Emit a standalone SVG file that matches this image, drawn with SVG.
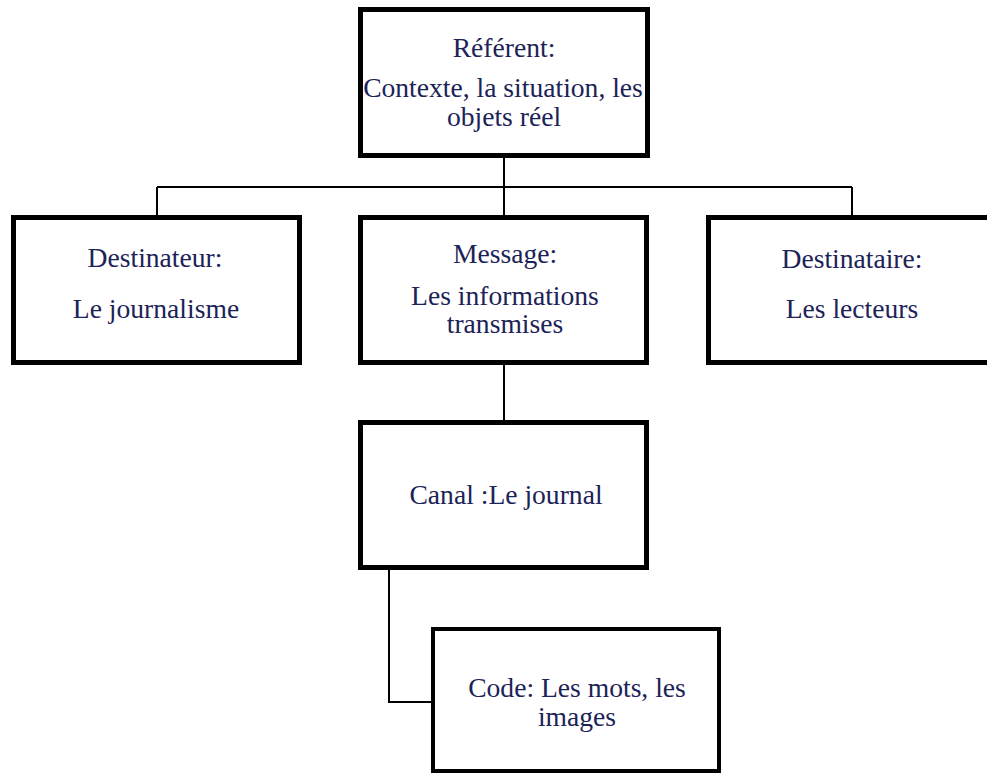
<svg xmlns="http://www.w3.org/2000/svg" width="987" height="774" viewBox="0 0 987 774">
<style>
.box{fill:#fff;stroke:#000;stroke-width:5}
.t{font-family:'Liberation Serif','DejaVu Serif',serif;font-size:27.6px;fill:#1c2357;text-anchor:middle}
.c{fill:none;stroke:#000;stroke-width:2}
</style>
<rect width="987" height="774" fill="#fff"/>
<g id="connectors">
<path class="c" d="M504 156V217"/>
<path class="c" d="M157 187H852"/>
<path class="c" d="M157 187V216"/>
<path class="c" d="M852 187V216"/>
<path class="c" d="M504 363V421"/>
<path class="c" d="M389 568V702H432"/>
</g>
<g id="referent">
<rect class="box" x="360.5" y="9.5" width="287" height="146"/>
<text class="t" x="504" y="57">Référent:</text>
<text class="t" x="503" y="97">Contexte, la situation, les</text>
<text class="t" x="504" y="126">objets réel</text>
</g>
<g id="destinateur">
<rect class="box" x="13.5" y="217.5" width="286" height="145"/>
<text class="t" x="155" y="267">Destinateur:</text>
<text class="t" x="156" y="318">Le journalisme</text>
</g>
<g id="message">
<rect class="box" x="360.5" y="217.5" width="286" height="145"/>
<text class="t" x="505" y="263">Message:</text>
<text class="t" x="505" y="305">Les informations</text>
<text class="t" x="505" y="333">transmises</text>
</g>
<g id="destinataire">
<rect class="box" x="708.5" y="217.5" width="292" height="145"/>
<text class="t" x="852" y="268">Destinataire:</text>
<text class="t" x="852" y="318">Les lecteurs</text>
</g>
<g id="canal">
<rect class="box" x="360.5" y="422.5" width="286" height="145"/>
<text class="t" x="506" y="504">Canal :Le journal</text>
</g>
<g id="code">
<rect class="box" x="433" y="629" width="286" height="142" style="stroke-width:4"/>
<text class="t" x="577" y="697">Code: Les mots, les</text>
<text class="t" x="577" y="726">images</text>
</g>
</svg>
